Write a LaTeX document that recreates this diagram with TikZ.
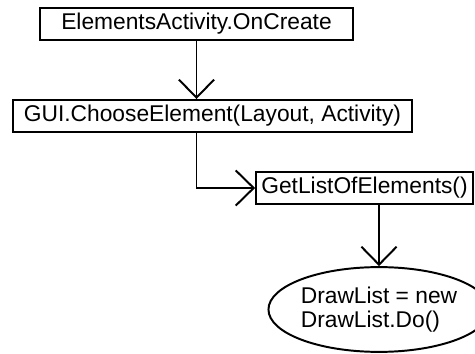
\documentclass[tikz,border=0pt]{standalone}
\usepackage{fontspec}
\setmainfont{Liberation Sans}
\usetikzlibrary{arrows.meta,shapes.geometric}

\begin{document}
\begin{tikzpicture}[x=.25mm,y=.25mm,
 call/.style={draw=black,line width=1.4pt,inner sep=0pt,align=center,
              font=\fontsize{16.2}{19.5}\selectfont,minimum height=8mm},
 work/.style={call,ellipse,align=left,minimum width=54.5mm,minimum height=21.2mm,
              font=\fontsize{16.2}{17.2}\selectfont},
 flow/.style={-{Straight Barb[length=4.5mm,width=8.8mm]},line width=1.4pt}]
\useasboundingbox (0,0) rectangle (475,-354);

\node[call,minimum width=78.2mm] (create) at (196.5,-24) {ElementsActivity.OnCreate};
\node[call,minimum width=99.7mm] (choose) at (212.5,-116) {GUI.ChooseElement(Layout, Activity)};
\node[call,minimum width=54.2mm,minimum height=7.8mm] (getlist) at (364.5,-188) {GetListOfElements()};
\node[work] (drawlist) at (379,-309.5) {DrawList = new\\DrawList.Do()};

\draw[flow] (create.south) -- (create.south |- choose.north);
\draw[flow] (choose.south -| create.south) |- (getlist.west);
\draw[flow] (drawlist.north |- getlist.south) -- (drawlist.north);
\end{tikzpicture}
\end{document}
